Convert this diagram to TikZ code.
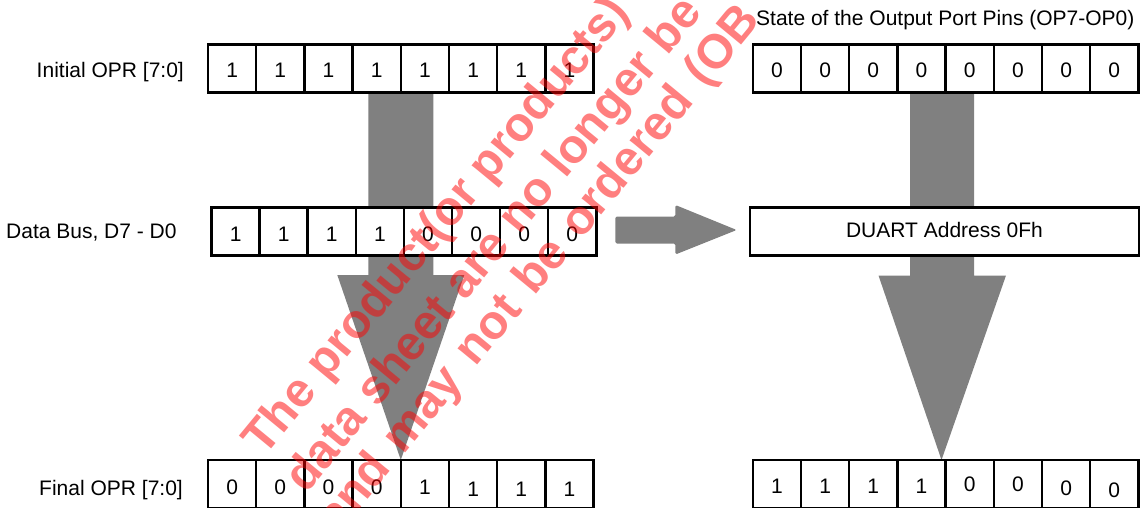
\documentclass[tikz,border=0pt]{standalone}
\usepackage{fontspec}
\setmainfont{Liberation Sans}
\usetikzlibrary{calc}
\definecolor{arrowgray}{RGB}{128,128,128}
\begin{document}
\begin{tikzpicture}[x=1pt,y=-1pt,
  cell/.style={draw=black, line width=2.5pt, fill=white, minimum width=48.2pt, minimum height=48pt, inner sep=0pt, outer sep=0pt, anchor=north west},
  digit/.style={font=\fontsize{21}{25}\selectfont, inner sep=0pt, text depth=0pt},
  lbl/.style={font=\fontsize{21}{25}\selectfont, inner sep=0pt},
  blockarrow/.style={fill=arrowgray},
  wm/.style={text=red, text opacity=0.5, font=\fontsize{48}{57}\selectfont\bfseries, rotate=50.5, anchor=base west, inner sep=0pt}]
\useasboundingbox (0,0) rectangle (1141,508);
\clip (0,0) rectangle (1141,508);

% named positions for the rows (nodes drawn later on top of arrows)
\coordinate (i4se) at ({208+48.2*4},92.5);
\coordinate (f4ne) at ({208+48.2*4},460);
\coordinate (o4se) at (942,92.5);
\coordinate (g4ne) at (941.5,460);

% left big arrow
\fill[blockarrow] ($(i4se)+(-32.5,-20)$) -- ($(i4se)+(32.5,-20)$) -- ($(i4se)+(32.5,182.5)$) -- ($(i4se)+(63.5,182.5)$) -- (f4ne) -- ($(i4se)+(-63.5,182.5)$) -- ($(i4se)+(-32.5,182.5)$) -- cycle;
% right big arrow
\fill[blockarrow] ($(o4se)+(-32,-20)$) -- ($(o4se)+(32,-20)$) -- ($(o4se)+(32,183)$) -- ($(o4se)+(64,183)$) -- (g4ne) -- ($(o4se)+(-63.5,183)$) -- ($(o4se)+(-32,183)$) -- cycle;

% Initial OPR
\foreach \v/\dy [count=\i] in {1/2,1/2,1/2,1/2,1/2,1/2,1/2,1/2} {
  \node[cell] (i\i) at ({208+48.2*(\i-1)},44.5) {};
  \node[digit] at ($(i\i.center)+(0,\dy)$) {\v};
}
% Data bus
\foreach \v/\dy [count=\i] in {1/3,1/3,1/3,1/3,0/3,0/3,0/3,0/3} {
  \node[cell] (d\i) at ({211.5+48.1*(\i-1)},207.5) {};
  \node[digit] at ($(d\i.center)+(0,\dy)$) {\v};
}
% Final OPR
\foreach \v/\dy [count=\i] in {0/3.5,0/3.5,0/3.5,0/3.5,1/3.5,1/5,1/5,1/5} {
  \node[cell] (f\i) at ({208+48.2*(\i-1)},460) {};
  \node[digit] at ($(f\i.center)+(0,\dy)$) {\v};
}
% Output port pins initial
\foreach \v/\dy [count=\i] in {0/2,0/2,0/2,0/2,0/2,0/2,0/2,0/2} {
  \node[cell] (o\i) at ({752.8+48.2*(\i-1)},44.5) {};
  \node[digit] at ($(o\i.center)+(0,\dy)$) {\v};
}
% Output port pins final
\foreach \v/\dy [count=\i] in {1/2.5,1/2.5,1/2.5,1/2.5,0/0.5,0/0.5,0/4,0/6} {
  \node[cell] (g\i) at ({752.8+48.2*(\i-1)},460) {};
  \node[digit] at ($(g\i.center)+(0,\dy)$) {\v};
}
% DUART box
\node[cell, minimum width=389pt] (duart) at (750,207.5) {};
\node[lbl, anchor=base] at ($(duart.center)+(0,5.8)$) {DUART Address 0Fh};

% horizontal arrow
\coordinate (h0) at ($(d8.east)+(19,-1.5)$);
\coordinate (h1) at ($(duart.west)+(-13.3,-1.5)$);
\fill[blockarrow, rounded corners=1.5pt] ($(h0)+(0,-13.5)$) -- ($(h0)+(60,-13.5)$) -- ($(h0)+(60,-25)$) -- (h1) -- ($(h0)+(60,24.5)$) -- ($(h0)+(60,13.5)$) -- ($(h0)+(0,13.5)$) -- cycle;

% row labels
\node[lbl, anchor=base east] (l1) at (184,78) {Initial OPR [7:0]};
\node[lbl, anchor=base west] (l2) at (6,238) {Data Bus, D7 - D0};
\node[lbl, anchor=base east] (l3) at (183,495) {Final OPR [7:0]};
\node[lbl, anchor=base west] (l4) at (756,26) {State of the Output Port Pins (OP7-OP0)};

% watermark
\node[wm] (w1) at (264,458) {The product(or products)};
\node[wm] (w2) at (306,495) {data sheet are no longer be};
\node[wm] (w3) at (338,535) {\spaceskip=17.5pt\relax and may not be ordered (OB};
\end{tikzpicture}
\end{document}
